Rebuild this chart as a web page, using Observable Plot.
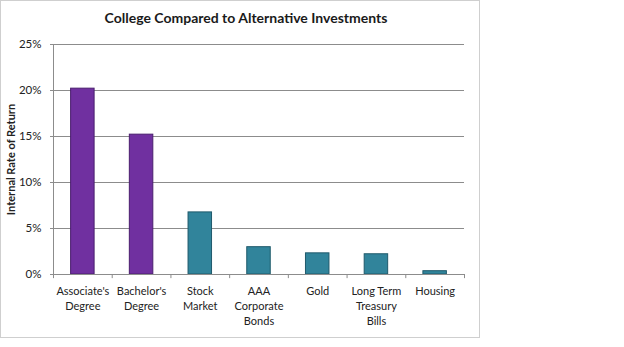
<!DOCTYPE html>
<html>
<head>
<meta charset="utf-8">
<script src="https://cdn.jsdelivr.net/npm/d3@7"></script>
<script src="https://cdn.jsdelivr.net/npm/@observablehq/plot@0.6"></script>
<style>
  html, body { margin: 0; padding: 0; background: #fff; }
  #frame {
    position: absolute; left: 0; top: 0; width: 480px; height: 338px;
    box-sizing: border-box; border: 1px solid #cfcfcf; background: #fff;
    font-family: Lato, "Open Sans", sans-serif;
  }
  #title {
    position: absolute; left: 0; top: 8px; width: 490px; text-align: center;
    font-size: 14px; font-weight: bold; color: #1a1a1a;
  }
  #chart { position: absolute; left: 0; top: 30px; }
  #chart svg { font-family: Lato, "Open Sans", sans-serif; }
  #chart [aria-label="y-axis label"] text { font-weight: bold; font-size: 11px; }
  #chart [aria-label="y-axis tick label"] { font-size: 11.5px; }
</style>
</head>
<body>
<div id="frame">
  <div id="title">College Compared to Alternative Investments</div>
  <div id="chart"></div>
</div>
<script>
const categories = ["Associate's\nDegree", "Bachelor's\nDegree", "Stock\nMarket", "AAA\nCorporate\nBonds", "Gold", "Long Term\nTreasury\nBills", "Housing"];
const values = [20.2, 15.2, 6.75, 2.97, 2.3, 2.2, 0.36];
const groups = ["College", "College", "Investment", "Investment", "Investment", "Investment", "Investment"];
const yTicks = [0, 5, 10, 15, 20, 25];
const groupNames = ["College", "Investment"];
const fillColors = ["#7030a0", "#31849b"];
const strokeColors = ["#4a1e6e", "#1f5a6b"];

const data = categories.map((c, i) => ({category: c, value: values[i], group: groups[i]}));
const strokeOf = g => strokeColors[groupNames.indexOf(g)];

const W = 478, H = 300, ML = 52, MR = 15;
const bw = (W - ML - MR) / categories.length;

const plot = Plot.plot({
  width: W,
  height: H,
  marginLeft: ML,
  marginRight: MR,
  marginTop: 13,
  marginBottom: 57,
  style: {fontSize: "11px", color: "#222", background: "transparent"},
  x: {domain: categories, paddingInner: 0.6, paddingOuter: 0.3, round: false, label: null},
  y: {domain: [0, 25], label: null},
  color: {domain: groupNames, range: fillColors},
  marks: [
    Plot.gridY(yTicks, {stroke: "#8c8c8c", strokeOpacity: 1}),
    Plot.barY(data, {x: "category", y: "value", fill: "group", stroke: d => strokeOf(d.group), strokeWidth: 1}),
    Plot.ruleY([0], {stroke: "#8c8c8c"}),
    Plot.frame({anchor: "left", stroke: "#8c8c8c"}),
    Plot.ruleX(categories, {x: d => d, y1: 0, y2: -0.45, dx: -bw / 2, stroke: "#8c8c8c"}),
    Plot.ruleX(categories.slice(-1), {x: d => d, y1: 0, y2: -0.45, dx: bw / 2, stroke: "#8c8c8c"}),
    Plot.axisY({ticks: yTicks, tickFormat: d => d + "%", tickSize: 3, tickPadding: 9, stroke: "#8c8c8c",
      label: "Internal Rate of Return", labelAnchor: "center", labelOffset: 46, labelArrow: false}),
    Plot.axisX({tickSize: 0, tickPadding: 10, lineHeight: 1.35, label: null})
  ]
});
document.getElementById("chart").appendChild(plot);
</script>
</body>
</html>
